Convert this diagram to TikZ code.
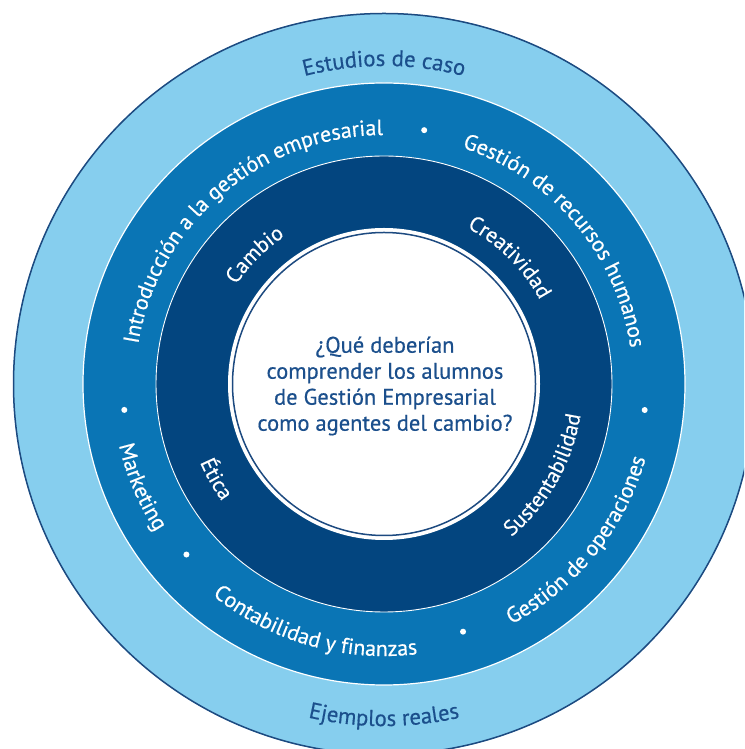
\documentclass[tikz,border=0pt]{standalone}
\usepackage{fontspec}
\setmainfont{PT Sans}[FakeBold=0.45]
\usetikzlibrary{decorations.text}
\definecolor{outerblue}{HTML}{86CEEE}
\definecolor{midblue}{HTML}{0A75B5}
\definecolor{darkblue}{HTML}{03457F}
\definecolor{navytext}{HTML}{1B4F8C}
\definecolor{edgeblue}{HTML}{1D4A80}
\newcommand\toparc[5]{% center angle, radius, half span, format, text
  \path[decorate, decoration={text along path, text align=center, text={|#4|#5}}]
    (C) ++(#1+#3:#2) arc[start angle=#1+#3, end angle=#1-#3, radius=#2];}
\newcommand\botarc[5]{%
  \path[decorate, decoration={text along path, text align=center, text={|#4|#5}}]
    (C) ++(#1-#3:#2) arc[start angle=#1-#3, end angle=#1+#3, radius=#2];}
\newcommand\navyfont{\color{navytext}\fontsize{22.7}{26}\selectfont}
\newcommand\whitefont{\color{white}\fontsize{22}{26}\selectfont}
\newcommand\innerfont{\color{white}\fontsize{21.5}{26}\selectfont}
\tikzset{
  ringdot/.style={fill=white},
  question/.style={text=navytext, align=center, font=\fontsize{22.5}{26}\selectfont}
}
\begin{document}
\begin{tikzpicture}[x=1pt,y=1pt]
\useasboundingbox (0,0) rectangle (744,749);
\clip (0,0) rectangle (744,749);
\coordinate (C) at (384,365);
% rings
\fill[outerblue] (C) circle[radius=371];
\draw[edgeblue, line width=1.5] (C) circle[radius=370.5];
\fill[midblue] (C) circle[radius=301];
\draw[white, line width=1.2] (C) circle[radius=301];
\fill[darkblue] (C) circle[radius=228];
\draw[white, line width=0.9] (C) circle[radius=228];
\fill[white] (C) circle[radius=156];
\draw[edgeblue, line width=1.5] (C) circle[radius=151.5];
% outer ring texts
\toparc{90}{318}{60}{\navyfont}{Estudios de caso}
\botarc{270}{342}{60}{\navyfont}{Ejemplos reales}
% middle ring texts
\toparc{130.5}{249}{80}{\whitefont}{Introducción a la gestión empresarial}
\toparc{40}{249}{65}{\whitefont}{Gestión de recursos humanos}
\botarc{-39}{272}{55}{\whitefont}{Gestión de operaciones}
\botarc{254}{272}{58}{\whitefont}{Contabilidad y finanzas}
\botarc{203}{272}{30}{\whitefont}{Marketing}
% dots
\fill[ringdot] (C) ++(81:257) circle[radius=3];
\fill[ringdot] (C) ++(-5.7:262) circle[radius=3];
\fill[ringdot] (C) ++(-72.3:260) circle[radius=3];
\fill[ringdot] (C) ++(220.8:261) circle[radius=3];
\fill[ringdot] (C) ++(185.7:261) circle[radius=3];
% dark ring texts
\toparc{135}{178}{40}{\innerfont}{Cambio}
\toparc{45.2}{177}{45}{\innerfont}{Creatividad}
\botarc{-29.6}{199}{48}{\innerfont}{Sustentabilidad}
\botarc{209.5}{200}{30}{\innerfont}{Ética}
% central question
\node[question] (q) at (385,363) {¿Qué deberían\\comprender los alumnos\\de Gestión Empresarial\\como agentes del cambio?};
\end{tikzpicture}
\end{document}
